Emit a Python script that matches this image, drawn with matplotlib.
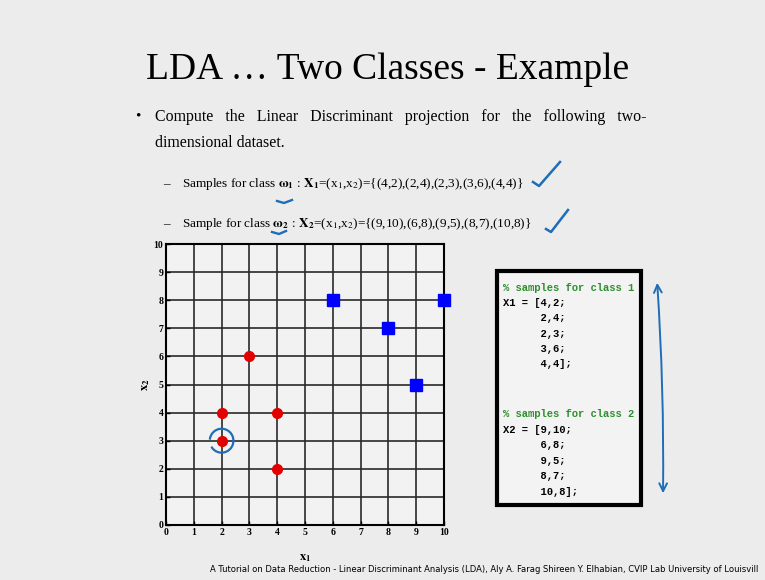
import numpy as np
import matplotlib
matplotlib.use("Agg")
from matplotlib import pyplot as plt
from matplotlib.patches import Arc, Rectangle

# samples drawn on the grid
c1_x = [4, 2, 2, 3, 4]
c1_y = [2, 4, 3, 6, 4]
c2_x = [6, 9, 8, 10]
c2_y = [8, 5, 7, 8]
ticks = list(range(0, 11))

# matlab listing shown next to the plot
code_c1 = ["% samples for class 1", "X1 = [4,2;", "      2,4;", "      2,3;",
           "      3,6;", "      4,4];"]
code_c2 = ["% samples for class 2", "X2 = [9,10;", "      6,8;", "      9,5;",
           "      8,7;", "      10,8];"]

W, H = 765, 580
bg = "#ececec"
pen = "#1f6db8"

plt.rcParams["mathtext.fontset"] = "stix"
fig = plt.figure(figsize=(W / 100, H / 100), dpi=100, facecolor=bg)


def px(x, y):
    return x / W, 1 - y / H


serif = "Liberation Serif"

fig.text(*px(388, 70), "LDA … Two Classes - Example", family=serif,
         fontsize=27, ha="center", va="center")

fig.text(*px(135, 116), "•", family=serif, fontsize=11, ha="left", va="center")
fig.text(*px(155, 117), "Compute   the   Linear   Discriminant   projection   for   the   following   two-",
         family=serif, fontsize=11.4, ha="left", va="center")
fig.text(*px(155, 143), "dimensional dataset.", family=serif, fontsize=11.4,
         ha="left", va="center")

fig.text(*px(163, 184), "–", family=serif, fontsize=9.5, ha="left", va="center")
fig.text(*px(182, 184),
         r"Samples for class $\mathbf{\omega_1}$ : $\mathbf{X_1}$=(x$_1$,x$_2$)={(4,2),(2,4),(2,3),(3,6),(4,4)}",
         family=serif, fontsize=9.5, ha="left", va="center")
fig.text(*px(163, 224), "–", family=serif, fontsize=9.5, ha="left", va="center")
fig.text(*px(182, 224),
         r"Sample for class $\mathbf{\omega_2}$ : $\mathbf{X_2}$=(x$_1$,x$_2$)={(9,10),(6,8),(9,5),(8,7),(10,8)}",
         family=serif, fontsize=9.5, ha="left", va="center")

# scatter plot of the two classes
ax = fig.add_axes([166 / W, 1 - 525 / H, (444 - 166) / W, (525 - 244) / H])
ax.set_facecolor("#f2f2f2")
ax.plot(c1_x, c1_y, "o", color="#e00000", markersize=7, zorder=3)
ax.plot(c2_x, c2_y, "s", color="#0000ff", markersize=8, zorder=3, clip_on=False)
ax.set_xlim(0, 10)
ax.set_ylim(0, 10)
ax.set_xticks(ticks)
ax.set_yticks(ticks)
ax.grid(True, color="#2a2a2a", linewidth=1.2)
ax.set_axisbelow(True)
for s in ax.spines.values():
    s.set_linewidth(1.5)
ax.tick_params(direction="in", length=3, width=1, pad=2)
for lab in ax.get_xticklabels() + ax.get_yticklabels():
    lab.set_family(serif)
    lab.set_fontweight("bold")
    lab.set_fontsize(7)
ax.set_xlabel(r"$\mathbf{x_1}$", fontsize=9, labelpad=10)
ax.set_ylabel(r"$\mathbf{x_2}$", fontsize=9, labelpad=1)

# pen marks
ax.add_patch(Arc((2, 3), 0.85, 0.85, theta1=-150, theta2=175, color=pen,
                 linewidth=1.6, zorder=4))

ov = fig.add_axes([0, 0, 1, 1], facecolor="none")
ov.set_xlim(0, W)
ov.set_ylim(H, 0)
ov.axis("off")

ov.plot([533, 539, 560], [182, 186, 162], color=pen, linewidth=1.8)
ov.plot([546, 551, 568], [229, 232, 210], color=pen, linewidth=1.8)
ov.plot([277, 284, 292], [201, 203, 200], color=pen, linewidth=1.7)
ov.plot([272, 279, 286], [232, 234, 231], color=pen, linewidth=1.7)
ov.annotate("", xy=(657, 280), xytext=(663, 496),
            arrowprops=dict(arrowstyle="<->", color=pen, linewidth=1.4,
                            mutation_scale=14, connectionstyle="arc3,rad=0.02"))

# code box
ov.add_patch(Rectangle((497, 271), 144, 234, facecolor="#f3f3f3",
                       edgecolor="black", linewidth=3))
mono = "Liberation Mono"
for i, line in enumerate(code_c1):
    col = "#2f8f2f" if line.startswith("%") else "black"
    ov.text(503, 288 + i * 15.2, line, family=mono, fontsize=7.6,
            fontweight="bold", color=col, va="center")
for i, line in enumerate(code_c2):
    col = "#2f8f2f" if line.startswith("%") else "black"
    ov.text(503, 414 + i * 15.6, line, family=mono, fontsize=7.6,
            fontweight="bold", color=col, va="center")

fig.text(*px(210, 570),
         "A Tutorial on Data Reduction - Linear Discriminant Analysis (LDA), Aly A. Farag Shireen Y. Elhabian, CVIP Lab University of Louisvill",
         family="DejaVu Sans", fontstretch="condensed", fontsize=6.75,
         ha="left", va="center")

plt.savefig("out.png", dpi=100, facecolor=bg)
